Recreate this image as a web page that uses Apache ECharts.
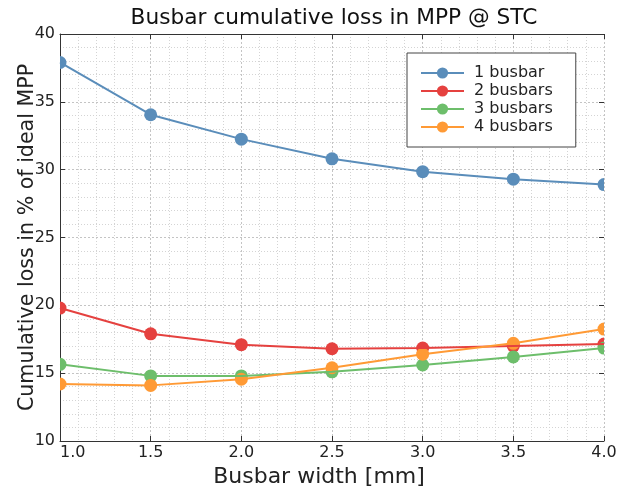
<!DOCTYPE html>
<html><head><meta charset="utf-8">
<script src="https://cdn.jsdelivr.net/npm/echarts@6/dist/echarts.min.js"></script>
<style>html,body{margin:0;padding:0;background:#fff}#c{width:628px;height:490px}</style>
</head><body><div id="c"></div>
<script>
const widths = [1.0, 1.5, 2.0, 2.5, 3.0, 3.5, 4.0];
const seriesNames = ['1 busbar', '2 busbars', '3 busbars', '4 busbars'];
const loss1 = [37.9, 34.05, 32.25, 30.8, 29.85, 29.3, 28.9];
const loss2 = [19.8, 17.9, 17.1, 16.8, 16.85, 17.0, 17.15];
const loss3 = [15.65, 14.8, 14.8, 15.1, 15.6, 16.2, 16.85];
const loss4 = [14.2, 14.1, 14.55, 15.4, 16.4, 17.2, 18.25];
const colors = ['#5A8DBA', '#E5413F', '#6DBE6B', '#FF9A35'];
const allLoss = [loss1, loss2, loss3, loss4];

const font = 'DejaVu Sans';
const chart = echarts.init(document.getElementById('c'));
const gridLine = {show: true, lineStyle: {color: '#c4c4c4', type: [2, 2], width: 1}};
const minorLine = {show: true, lineStyle: {color: '#d4d4d4', type: [1, 2], width: 1}};
const markerR = 6.5;

const series = [];
seriesNames.forEach((n, i) => {
  const data = widths.map((w, j) => [w, allLoss[i][j]]);
  series.push({
    name: n, type: 'line', xAxisIndex: 0, yAxisIndex: 0, data,
    symbol: 'circle', symbolSize: 13, showSymbol: false, clip: true,
    itemStyle: {color: colors[i]},
    lineStyle: {color: colors[i], width: 2}
  });
  series.push({
    type: 'custom', xAxisIndex: 0, yAxisIndex: 0, data, clip: true,
    renderItem: (params, api) => {
      const p = api.coord([api.value(0), api.value(1)]);
      return {type: 'circle', shape: {cx: p[0], cy: p[1], r: markerR},
        style: {fill: colors[i]}};
    }
  });
});

chart.setOption({
  animation: false,
  backgroundColor: '#fff',
  title: {text: 'Busbar cumulative loss in MPP @ STC', left: 329, top: 2, textAlign: 'center',
    textStyle: {fontFamily: font, fontSize: 21.7, fontWeight: 'normal', color: '#111'}},
  grid: {left: 60, right: 24, top: 34, bottom: 49, outerBoundsMode: 'none', containLabel: false},
  legend: {
    data: seriesNames, orient: 'vertical', left: 407, top: 53, width: 169,
    padding: [12, 23, 12, 13], itemGap: 2, itemWidth: 43, itemHeight: 14,
    borderColor: '#444', borderWidth: 1, backgroundColor: '#fff',
    textStyle: {fontFamily: font, fontSize: 16, color: '#222', padding: [0, 0, 0, 5]}
  },
  xAxis: [{
    type: 'value', min: 1, max: 4, interval: 0.5,
    name: 'Busbar width [mm]', nameLocation: 'middle', nameGap: 21,
    nameTextStyle: {fontFamily: font, fontSize: 22, color: '#222', verticalAlign: 'top',
      padding: [0, 26, 0, 0]},
    axisLine: {show: true, onZero: false, lineStyle: {color: '#333'}},
    axisTick: {show: true, inside: true, length: 5, lineStyle: {color: '#333'}},
    minorTick: {show: false, splitNumber: 5},
    axisLabel: {fontFamily: font, fontSize: 16, color: '#222', margin: 4,
      formatter: v => v.toFixed(1), alignMinLabel: 'left'},
    splitLine: gridLine,
    minorSplitLine: minorLine
  }, {
    type: 'value', position: 'top', min: 1, max: 4, interval: 0.5,
    axisLine: {show: true, onZero: false, lineStyle: {color: '#333'}},
    axisTick: {show: true, inside: true, length: 5, lineStyle: {color: '#333'}},
    axisLabel: {show: false}, splitLine: {show: false}
  }],
  yAxis: [{
    type: 'value', min: 10, max: 40, interval: 5,
    name: 'Cumulative loss in % of ideal MPP', nameLocation: 'middle', nameGap: 32,
    nameMoveOverlap: false,
    nameTextStyle: {fontFamily: font, fontSize: 20.6, color: '#222', verticalAlign: 'middle'},
    axisLine: {show: true, onZero: false, lineStyle: {color: '#333'}},
    axisTick: {show: true, inside: true, length: 5, lineStyle: {color: '#333'}},
    minorTick: {show: false, splitNumber: 5},
    axisLabel: {fontFamily: font, fontSize: 16, color: '#222', margin: 5},
    splitLine: gridLine,
    minorSplitLine: minorLine
  }, {
    type: 'value', position: 'right', min: 10, max: 40, interval: 5,
    axisLine: {show: false, onZero: false},
    axisTick: {show: true, inside: true, length: 5, lineStyle: {color: '#333'}},
    axisLabel: {show: false}, splitLine: {show: false}
  }],
  series
});
</script></body></html>
